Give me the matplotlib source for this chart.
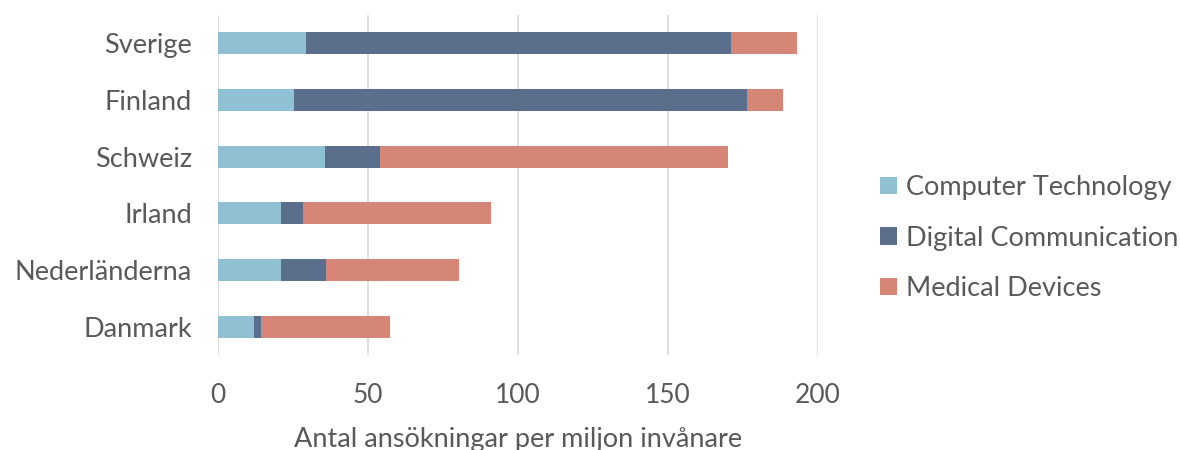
import numpy as np
import matplotlib
matplotlib.use('Agg')
import matplotlib.pyplot as plt

# Data (applications per million inhabitants)
countries = ['Sverige', 'Finland', 'Schweiz', 'Irland', 'Nederländerna', 'Danmark']
computer_tech = [29.3, 25.1, 35.6, 20.8, 20.8, 11.9]
digital_comm = [141.8, 151.2, 18.4, 7.3, 15.1, 2.3]
medical_dev = [22.0, 12.0, 115.9, 62.8, 44.4, 43.0]
series_names = ['Computer Technology', 'Digital Communication', 'Medical Devices']
x_ticks = [0, 50, 100, 150, 200]
x_label = 'Antal ansökningar per miljon invånare'

colors = ['#8fc0d3', '#5b6e8b', '#d68677']
text_color = '#595959'

plt.rcParams['font.family'] = ['Lato', 'DejaVu Sans']

fig = plt.figure(figsize=(11.8, 4.5), dpi=100)
ax = fig.add_axes([0.185, 0.211, 0.508, 0.756])

y = np.arange(len(countries))
left = np.zeros(len(countries))
for name, vals, col in zip(series_names, [computer_tech, digital_comm, medical_dev], colors):
    ax.barh(y, vals, left=left, height=0.39, color=col, label=name)
    left += np.array(vals)

ax.set_ylim(len(countries) - 0.5, -0.5)
ax.set_yticks(y)
ax.set_yticklabels(countries, fontsize=19.5, color=text_color)
ax.set_xlim(0, 200)
ax.set_xticks(x_ticks)
ax.set_xticklabels([str(t) for t in x_ticks], fontsize=19, color=text_color)
ax.set_xlabel(x_label, fontsize=19.5, color=text_color, labelpad=14)
ax.tick_params(axis='y', length=0, pad=19)
ax.tick_params(axis='x', length=0, pad=20)
ax.grid(axis='x', color='#d9d9d9', linewidth=1.2)
ax.set_axisbelow(True)
for s in ax.spines.values():
    s.set_visible(False)

fig.legend(loc='center left', bbox_to_anchor=(0.746, 0.471), frameon=False,
           fontsize=19.5, labelcolor=text_color, handlelength=0.6, handleheight=0.6,
           handletextpad=0.35, labelspacing=0.95, borderaxespad=0, borderpad=0)

plt.savefig('out.png', dpi=100)
